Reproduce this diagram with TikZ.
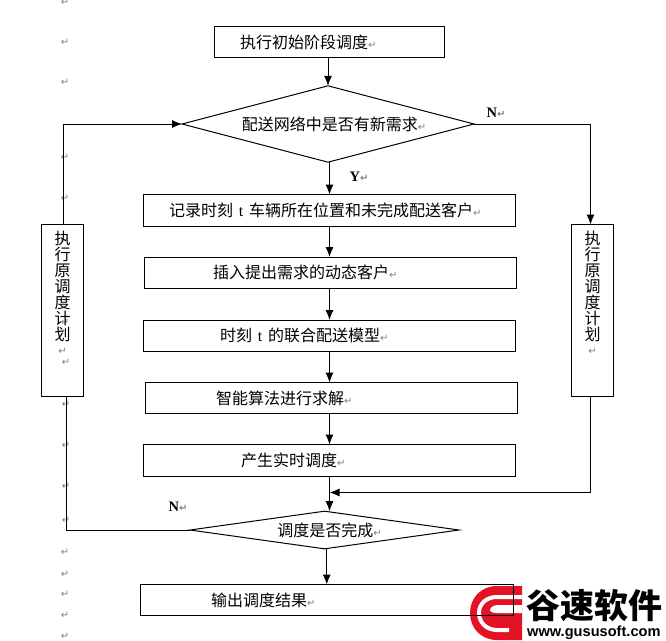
\documentclass[tikz,border=0pt]{standalone}
\usepackage{fontspec}
\usepackage{xcolor}
\usetikzlibrary{arrows.meta,shapes.geometric}
\setmainfont{Noto Sans CJK SC}
\newfontfamily\latf{Liberation Serif}
\newfontfamily\markf{DejaVu Sans}
\newfontfamily\webf{Liberation Sans}
\definecolor{logored}{RGB}{227,18,36}
\newcommand\retmark{{\markf\fontsize{10}{10}\selectfont\textcolor{gray}{↵}}}
\newcommand\tee{\makebox[16pt]{\latf t}}
\newcommand\vlabel{\parbox[c][172pt][t]{20pt}{\centering\fontsize{16}{16}\selectfont\vspace*{7pt}执\\行\\原\\调\\度\\计\\划\\[-2pt]\retmark}}
\tikzset{
  boxn/.style={draw=black,line width=1pt,inner sep=0pt,outer sep=0pt,align=left,font=\fontsize{16}{18}\selectfont},
  vboxn/.style={draw=black,line width=1pt,inner sep=0pt,outer sep=0pt,minimum width=42pt,minimum height=172pt},
  decn/.style={draw=black,line width=1pt,diamond,inner sep=0pt,outer sep=0pt,font=\fontsize{16}{18}\selectfont},
  markn/.style={inner sep=0pt},
  letn/.style={inner sep=0pt,font=\latf\bfseries\fontsize{14.5}{14.5}\selectfont},
  arr/.style={line width=1pt,-{Latex[length=10pt,width=8pt]}},
  lin/.style={line width=1pt}
}
\begin{document}
\begin{tikzpicture}[x=1pt,y=-1pt]
\useasboundingbox (0,0) rectangle (666,640);
% paragraph marks of the page behind the chart
\foreach \i/\x/\y in {1/65/2,2/65/42,3/65/82,4/65/157,5/65/198,6/65/240,7/65/322,8/66/362,9/66/404,10/66/445,11/66/486,12/66/520,13/65/552,14/65/574,15/65/594,16/65/615,17/65/636}
  \node[markn] (m\i) at (\x,\y) {\retmark};
% logo
\fill[logored] (522,586) -- (497,586) .. controls (481,586) and (470,598) .. (470,613) .. controls (470,628) and (481,640) .. (497,640) -- (522,640) -- cycle;
\draw[white,line width=4pt] (522,597) -- (497,597) .. controls (486,597) and (479,604) .. (479,613) .. controls (479,622) and (486,630) .. (497,630) -- (509,630);
\fill[white] (522,605) -- (498,605) .. controls (493,605) and (490,608) .. (490,610) .. controls (490,612) and (493,613) .. (498,613) -- (522,613) -- cycle;
\node[inner sep=0pt,anchor=west,font=\fontsize{34}{34}\selectfont\bfseries] (logotext) at (526,606) {谷速软件};
\node[inner sep=0pt,anchor=west,font=\webf\bfseries\fontsize{14.6}{16}\selectfont] (logoweb) at (527,633) {www.gususoft.com};
% boxes
\node[boxn,text width=230pt,minimum height=31pt] (b1) at (329.5,42) {\hspace*{25.5pt}执行初始阶段调度\retmark};
\node[decn,shape aspect=3.2,minimum width=292pt] (d1) at (328,124) {\hspace*{12pt}配送网络中是否有新需求\retmark};
\node[boxn,text width=372pt,minimum height=32pt] (b2) at (329.5,210.5) {\hspace*{25.5pt}记录时刻\tee 车辆所在位置和未完成配送客户\retmark};
\node[boxn,text width=372pt,minimum height=31pt] (b3) at (330.5,272.5) {\hspace*{68.5pt}插入提出需求的动态客户\retmark};
\node[boxn,text width=372.5pt,minimum height=31.5pt] (b4) at (329.25,335.75) {\hspace*{77pt}时刻\tee 的联合配送模型\retmark};
\node[boxn,text width=372pt,minimum height=31pt] (b5) at (331.5,398) {\hspace*{70.5pt}智能算法进行求解\retmark};
\node[boxn,text width=372pt,minimum height=31.5pt] (b6) at (329.5,460.25) {\hspace*{97.5pt}产生实时调度\retmark};
\node[decn,shape aspect=5.05,minimum width=269pt] (d2) at (324.5,530) {\hspace*{10pt}调度是否完成\retmark};
\node[boxn,text width=372.5pt,minimum height=31pt] (b7) at (326.75,600) {\hspace*{70.5pt}输出调度结果\retmark};
\node[vboxn] (lb) at (62.5,310.5) {\vlabel};
\node[vboxn] (rb) at (592.5,310.5) {\vlabel};
% letters
\node[letn] (ln) at (496,113) {N\retmark};
\node[letn] (ly) at (359,177) {Y\retmark};
\node[letn] (ln2) at (178,507) {N\retmark};
% connectors
\coordinate (j) at (b6.south |- 0,492.5);
\draw[arr] (d1.north |- b1.south) -- (d1.north);
\draw[arr] (b2.north |- d1.south) -- (b2.north);
\draw[arr] (b2.south) -- (b2.south |- b3.north);
\draw[arr] (b2.south |- b3.south) -- (b2.south |- b4.north);
\draw[arr] (b2.south |- b4.south) -- (b2.south |- b5.north);
\draw[arr] (b2.south |- b5.south) -- (b2.south |- b6.north);
\draw[arr] (b6.south) -- (b6.south |- d2.north);
\draw[arr] (b7.north |- d2.south) -- (b7.north);
\draw[arr] ([xshift=1pt]lb.north) |- (d1.west);
\draw[arr] (d1.east) -| ([xshift=-2pt]rb.north);
\draw[arr] ([xshift=-2pt]rb.south) |- (j);
\draw[lin] ([xshift=4pt]lb.south) |- (d2.west);
\end{tikzpicture}
\end{document}
